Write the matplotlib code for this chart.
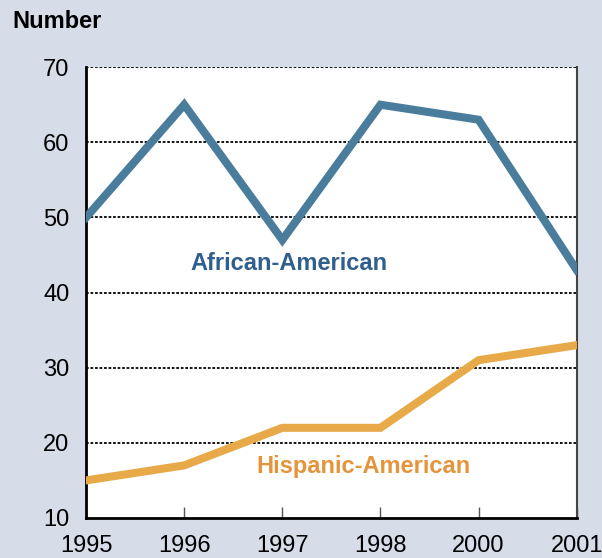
import numpy as np
import matplotlib.pyplot as plt

plt.rcParams['font.family'] = ['Liberation Sans', 'DejaVu Sans']

years = ['1995', '1996', '1997', '1998', '2000', '2001']
african_american = [50, 65, 47, 65, 63, 43]
hispanic_american = [15, 17, 22, 22, 31, 33]

bg = '#d6dde9'
blue = '#4a7d9c'
orange = '#e8a948'

fig = plt.figure(figsize=(6.02, 5.58), dpi=100, facecolor=bg)
ax = fig.add_axes([0.143, 0.0717, 0.815, 0.808])
ax.set_facecolor('white')

x = np.arange(len(years))
ax.plot(x, african_american, color=blue, lw=5.8, solid_joinstyle='miter', zorder=3)
ax.plot(x, hispanic_american, color=orange, lw=5.8, solid_joinstyle='miter', zorder=3)

ax.set_xlim(0, len(years) - 1)
ax.set_ylim(10, 70)
ax.set_yticks(range(10, 71, 10))
ax.set_xticks(x)
ax.set_xticklabels(years)

# dotted gridlines, including the top edge
for yv in range(20, 71, 10):
    ax.axhline(yv, color='black', lw=1.3, ls=(0, (1.5, 1)), zorder=1)

ax.spines['top'].set_visible(False)
ax.spines['left'].set_linewidth(2)
ax.spines['bottom'].set_linewidth(2)
ax.spines['right'].set_color('#444444')
ax.spines['right'].set_linewidth(1.5)

ax.tick_params(axis='y', length=0, labelsize=17, pad=12)
ax.tick_params(axis='x', direction='in', length=8, color='#555555', width=1,
               labelsize=17, pad=12)

ax.text(2.07, 43.9, 'African-American', color='#2f5f8c', fontsize=17,
        fontweight='bold', ha='center', va='center')
ax.text(2.83, 16.8, 'Hispanic-American', color='#e4953c', fontsize=17,
        fontweight='bold', ha='center', va='center')

fig.text(0.02, 0.962, 'Number', fontsize=17, fontweight='bold', ha='left', va='center')

plt.savefig('out.png', dpi=100, facecolor=bg)
